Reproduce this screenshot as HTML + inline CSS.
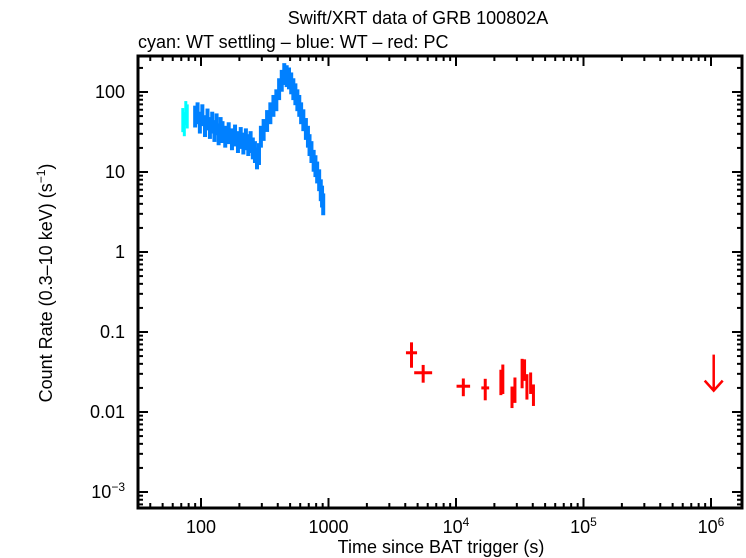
<!DOCTYPE html>
<html><head><meta charset="utf-8"><style>
body{margin:0;background:#fff;}
svg{display:block;font-family:"Liberation Sans",sans-serif;}
</style></head><body>
<svg id="chart" width="746" height="558" viewBox="0 0 746 558">
<text x="418" y="24" font-size="18" text-anchor="middle">Swift/XRT data of GRB 100802A</text>
<text x="138" y="48" font-size="18">cyan: WT settling – blue: WT – red: PC</text>
<g id="marks"></g>
<g id="axes"></g>
<text x="441" y="553" font-size="18" text-anchor="middle">Time since BAT trigger (s)</text>
<text transform="translate(52,283) rotate(-90)" font-size="18" text-anchor="middle">Count Rate (0.3–10 keV) (s<tspan baseline-shift="super" font-size="12">−1</tspan>)</text>
</svg>
<script>
const cyanT=[72,74,76,78];
const cyanR=[45,40,55,50];
const blueT=[88,92,96,100,105,110,115,120,125,130,135,140,145,150,160,170,180,190,200,210,220,230,240,250,260,270,280,290,300,320,340,360,380,400,420,440,460,480,500,520,540,560,580,600,620,650,680,700,720,750,780,800,830,860,880,900];
const blueR=[50,55,42,52,38,46,36,42,33,40,30,36,32,28,31,26,29,24,27,23,26,22,24,20,18,15,17,28,34,44,55,68,80,110,140,170,160,150,130,110,95,80,68,55,45,35,28,22,18,14,12,10,8,6,5,4];
const redT=[4500,5600,11500,17000,22500,23300,27500,29000,33000,34500,36000,38500,40500];
const redR=[0.055,0.031,0.021,0.020,0.025,0.028,0.016,0.020,0.033,0.035,0.022,0.024,0.017];
const redXerr=[450,900,1400,1200,500,500,600,600,600,700,500,600,500];
const redYerrFrac=[0.35,0.25,0.25,0.3,0.35,0.4,0.3,0.35,0.4,0.3,0.35,0.3,0.3];
const ulT=[1050000];
const ulR=[0.022];
const xTickVals=[100,1000,1e4,1e5,1e6];
const xTickLabels=["100","1000","10^4","10^5","10^6"];
const yTickVals=[100,10,1,0.1,0.01,0.001];
const yTickLabels=["100","10","1","0.1","0.01","10^-3"];

const L=138,R=742,T=56,B=508;
const xs=v=>201+(Math.log10(v)-2)*127.5;
const ys=v=>92-(Math.log10(v)-2)*80;
const NS="http://www.w3.org/2000/svg";
const marks=document.getElementById('marks'),axes=document.getElementById('axes');
function mk(tag,attrs,parent){const e=document.createElementNS(NS,tag);for(const k in attrs)e.setAttribute(k,attrs[k]);parent.appendChild(e);return e;}

function errbar(x0,x1,y,ylo,yhi,col,w){
  const g=mk('g',{stroke:col,'stroke-width':w},marks);
  mk('line',{x1:xs(x0),x2:xs(x1),y1:ys(y),y2:ys(y)},g);
  mk('line',{x1:xs(Math.sqrt(x0*x1)),x2:xs(Math.sqrt(x0*x1)),y1:ys(ylo),y2:ys(yhi)},g);
  return g;
}
cyanT.forEach((t,i)=>{
  const g=errbar(t-1.2,t+1.2,cyanR[i],cyanR[i]*0.7,cyanR[i]*1.4,'#00ffff',3);
  
  
});
blueT.forEach((t,i)=>{
  const n=i<blueT.length-1?blueT[i+1]:t*1.02;
  const g=errbar(t,n,blueR[i],blueR[i]*0.72,blueR[i]*1.35,'#0080ff',4);
  
  
});
redT.forEach((t,i)=>{
  const g=errbar(t-redXerr[i],t+redXerr[i],redR[i],redR[i]*(1-redYerrFrac[i]),redR[i]*(1+redYerrFrac[i]),'#ff0000',3);
  
  
});
ulT.forEach((t,i)=>{
  const x=xs(t),y=ys(ulR[i]);
  const g=mk('g',{stroke:'#ff0000','stroke-width':2.5,fill:'none'},marks);
  
  
  mk('line',{x1:x,x2:x,y1:y-30,y2:y+6},g);
  mk('polyline',{points:`${x-9},${y-4} ${x},${y+6} ${x+9},${y-4}`},g);
});

const frame=mk('rect',{x:L,y:T,width:R-L,height:B-T,fill:'none',stroke:'#000','stroke-width':3},axes);


function label(parent,x,y,txt,anchor){
  const t=mk('text',{x:x,y:y,'font-size':18,'text-anchor':anchor},parent);
  if(txt.includes('^')){const [b,e]=txt.split('^');t.textContent=b;const s=mk('tspan',{'baseline-shift':'super','font-size':12},t);s.textContent=e.replace('-','−');}
  else t.textContent=txt;
  return t;
}
const tk=mk('g',{stroke:'#000','stroke-width':2},axes);
for(let d=1;d<=7;d++)for(let m=1;m<10;m++){
  const v=m*Math.pow(10,d);const x=xs(v);if(x<L||x>R)continue;const len=m===1?10:5;
  mk('line',{x1:x,x2:x,y1:B,y2:B-len},tk);mk('line',{x1:x,x2:x,y1:T,y2:T+len},tk);
}
for(let d=-4;d<=3;d++)for(let m=1;m<10;m++){
  const v=m*Math.pow(10,d);const y=ys(v);if(y<T||y>B)continue;const len=m===1?10:5;
  mk('line',{x1:L,x2:L+len,y1:y,y2:y},tk);mk('line',{x1:R,x2:R-len,y1:y,y2:y},tk);
}
xTickVals.forEach((v,i)=>{
  const t=label(axes,xs(v),533,xTickLabels[i],'middle');
  
  
});
yTickVals.forEach((v,i)=>{
  const t=label(axes,125,ys(v)+6,yTickLabels[i],'end');
  
  
});
</script>
</body></html>
